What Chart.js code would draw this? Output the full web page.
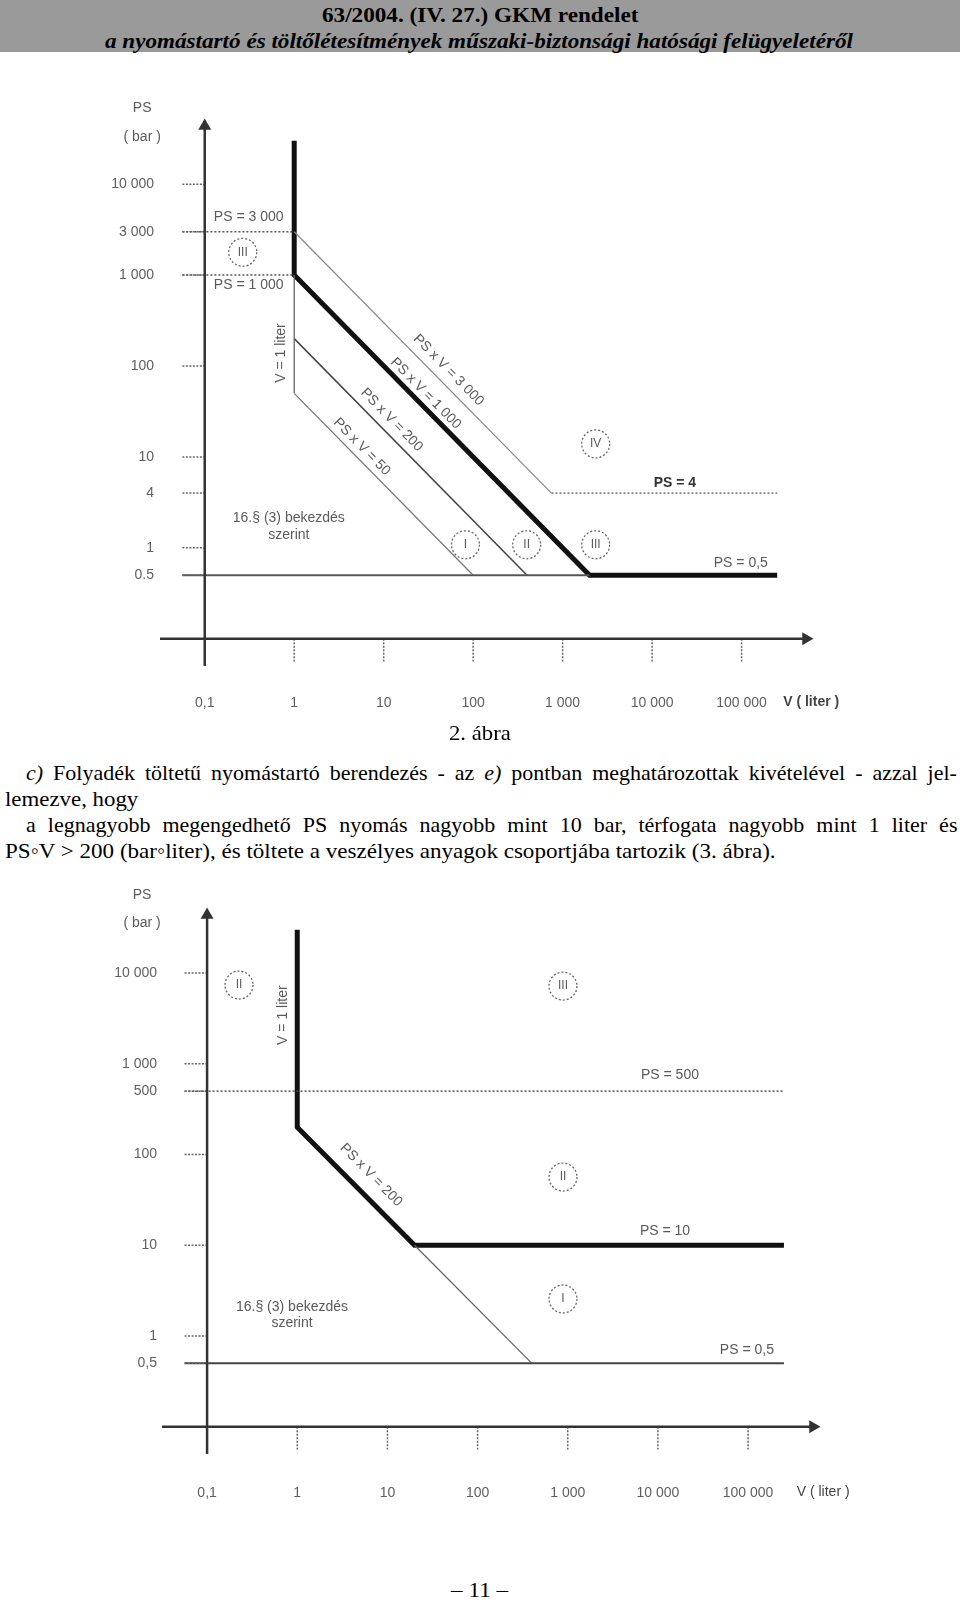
<!DOCTYPE html>
<html lang="hu">
<head>
<meta charset="utf-8">
<script src="https://cdn.jsdelivr.net/npm/chart.js@4.4.1/dist/chart.umd.min.js"></script>
<style>
  body { margin: 0; width: 960px; height: 1601px; position: relative; background: #fff; overflow: hidden;
         font-family: "Liberation Serif", "Times New Roman", serif; color: #000; }
  #head { position: absolute; left: 0; top: 0; width: 960px; height: 52px; background: #9a9a9a; }
  .ln { position: absolute; white-space: pre; transform-origin: 0 50%; line-height: 1; }
  canvas { position: absolute; left: 0; }
</style>
</head>
<body>
<div id="head"></div>
<canvas id="c1" width="960" height="670" style="top:60px"></canvas>
<canvas id="c2" width="960" height="630" style="top:870px"></canvas>
<script>
// drawn range of both diagrams (log axes, arrows at the ends)
const xRange = [10 ** -1.5, 10 ** 5.72];
const yRange = [10 ** -1.3, 10 ** 4.64];
const tickStart = 10 ** -1.25;   // left end of the small y tick dashes
const tickEnd = 10 ** -1.25;     // lower end of the small x tick dashes

const xTicks = [0.1, 1, 10, 100, 1000, 10000, 100000];
const xTickLabels = ['0,1', '1', '10', '100', '1 000', '10 000', '100 000'];

// 2. ábra
const yTicks1 = [0.5, 1, 4, 10, 100, 1000, 3000, 10000];
const yTickLabels1 = ['0.5', '1', '4', '10', '100', '1 000', '3 000', '10 000'];
const bold1 = [[1, 30000], [1, 1000], [2000, 0.5], [250000, 0.5]];
const psv3000 = [[1, 3000], [750, 4]];
const ps4 = [[750, 4], [250000, 4]];
const psv200 = [[1, 200], [400, 0.5]];
const psv50 = [[1, 50], [100, 0.5]];
const vOne = [[1, 1000], [1, 50]];
const ps05a = [[tickStart, 0.5], [2000, 0.5]];
const ps3000 = [[tickStart, 3000], [1, 3000]];
const ps1000 = [[tickStart, 1000], [1, 1000]];

// 3. ábra
const yTicks2 = [0.5, 1, 10, 100, 500, 1000, 10000];
const yTickLabels2 = ['0,5', '1', '10', '100', '500', '1 000', '10 000'];
const bold2 = [[1, 30000], [1, 200], [20, 10], [250000, 10]];
const psv200b = [[20, 10], [400, 0.5]];
const ps500 = [[tickStart, 500], [250000, 500]];
const ps05b = [[tickStart, 0.5], [250000, 0.5]];

// labels inside the diagrams: text, V, PS, rotation
const notes1 = [
  ['PS', 0.02, 68000], ['( bar )', 0.02, 32800],
  ['PS = 3 000', 0.31, 4300], ['PS = 1 000', 0.31, 780],
  ['V = 1 liter', 0.71, 139, -90],
  ['PS x V = 3 000', 53, 90, 45.5], ['PS x V = 1 000', 29.5, 50, 45.5],
  ['PS x V = 200', 12.3, 25.5, 45.5], ['PS x V = 50', 5.7, 12.9, 45.5],
  ['16.§ (3) bekezdés', 0.87, 2.14], ['szerint', 0.87, 1.39],
  ['PS = 4', 18000, 5.2], ['PS = 0,5', 98000, 0.68]
];
const circles1 = [['III', 0.266, 1780], ['I', 82, 1.08], ['II', 396, 1.08], ['III', 2340, 1.08], ['IV', 2340, 13.9]];
const notes2 = [
  ['PS', 0.019, 72000], ['( bar )', 0.019, 35600],
  ['V = 1 liter', 0.70, 3440, -90],
  ['PS = 500', 13600, 752], ['PS x V = 200', 6.6, 59.4, 45.5],
  ['PS = 10', 12000, 14.4], ['PS = 0,5', 97000, 0.70],
  ['16.§ (3) bekezdés', 0.875, 2.09], ['szerint', 0.875, 1.39]
];
const circles2 = [['II', 0.226, 7380], ['III', 885, 7190], ['II', 885, 56.5], ['I', 885, 2.56]];

Chart.defaults.font.family = '"Liberation Sans", Arial, sans-serif';
Chart.defaults.font.size = 14;
Chart.defaults.color = '#5f5f5f';

function seg(points, color, width, dash) {
  return {
    data: points.map(p => ({ x: p[0], y: p[1] })),
    borderColor: color,
    borderWidth: width,
    borderDash: dash || [],
    showLine: true,
    pointRadius: 0,
    fill: false,
    borderCapStyle: 'butt',
    borderJoinStyle: 'miter'
  };
}

function axes() {
  const xa = seg([[xRange[0], 0.1], [xRange[1], 0.1]], '#333', 2.5);
  const ya = seg([[0.1, yRange[0]], [0.1, yRange[1]]], '#333', 2.5);
  [xa, ya].forEach(d => {
    d.pointRadius = [0, 5];
    d.pointStyle = 'triangle';
    d.pointBackgroundColor = '#333';
    d.pointBorderColor = '#333';
    d.clip = false;
  });
  xa.pointRotation = 90;
  return [xa, ya];
}

function tickDashes(yTicks) {
  const out = [];
  yTicks.forEach(v => out.push(seg([[tickStart, v], [0.1, v]], '#666', 1.5, [2, 1.5])));
  xTicks.slice(1).forEach(v => out.push(seg([[v, 0.1], [v, tickEnd]], '#666', 1.5, [2, 1.5])));
  return out;
}

function notesPlugin(texts, circles, axisTitle) {
  return {
    id: 'notes',
    afterDatasetsDraw(chart) {
      const { ctx, scales: { x, y } } = chart;
      ctx.save();
      ctx.textAlign = 'center';
      ctx.textBaseline = 'middle';
      texts.forEach(t => {
        ctx.save();
        ctx.translate(x.getPixelForValue(t[1]), y.getPixelForValue(t[2]));
        ctx.rotate((t[3] || 0) * Math.PI / 180);
        const strong = t[0] === 'PS = 4';
        ctx.font = (strong ? 'bold ' : '') + '14px "Liberation Sans"';
        ctx.fillStyle = strong ? '#333' : '#5a5a5a';
        ctx.fillText(t[0], 0, 0);
        ctx.restore();
      });
      circles.forEach(c => {
        const px = x.getPixelForValue(c[1]), py = y.getPixelForValue(c[2]);
        ctx.beginPath();
        ctx.setLineDash([2, 2]);
        ctx.lineWidth = 1.3;
        ctx.strokeStyle = '#666';
        ctx.arc(px, py, 14, 0, Math.PI * 2);
        ctx.stroke();
        ctx.font = '12px "Liberation Sans"';
        ctx.fillStyle = '#5a5a5a';
        ctx.fillText(c[0], px, py);
      });
      // V ( liter ) after the last x tick label
      ctx.font = axisTitle.font;
      ctx.fillStyle = '#444';
      ctx.fillText('V ( liter )', x.getPixelForValue(axisTitle.v), x.top + axisTitle.dy);
      ctx.restore();
    }
  };
}

function makeChart(id, datasets, yTicks, yLabels, lay, plugin) {
  new Chart(document.getElementById(id), {
    type: 'scatter',
    data: { datasets },
    options: {
      responsive: false,
      animation: false,
      events: [],
      layout: { padding: { left: lay.left, right: lay.right, top: lay.top, bottom: 0 } },
      plugins: { legend: { display: false }, tooltip: { enabled: false } },
      scales: {
        x: {
          type: 'logarithmic', min: xRange[0], max: xRange[1],
          grid: { display: false, drawTicks: false }, border: { display: false },
          afterBuildTicks: s => { s.ticks = xTicks.map(v => ({ value: v })); },
          afterFit: s => { s.height = lay.xh; },
          ticks: { autoSkip: false, maxRotation: 0, padding: lay.xpad, callback: (v, i) => xTickLabels[i] }
        },
        y: {
          type: 'logarithmic', min: yRange[0], max: yRange[1],
          grid: { display: false, drawTicks: false }, border: { display: false },
          afterBuildTicks: s => { s.ticks = yTicks.map(v => ({ value: v })); },
          afterFit: s => { s.width = 60; },
          ticks: { autoSkip: false, padding: lay.ypad, callback: (v, i) => yLabels[i] }
        }
      }
    },
    plugins: [plugin]
  });
}

makeChart('c1', [
  ...axes(),
  ...tickDashes(yTicks1),
  seg(ps3000, '#555', 1.5, [2, 2]),
  seg(ps1000, '#555', 1.5, [2, 2]),
  seg(ps05a, '#555', 2),
  seg(vOne, '#666', 1.3),
  seg(psv50, '#777', 1.3),
  seg(psv200, '#444', 1.5),
  seg(psv3000, '#888', 1.2),
  seg(ps4, '#777', 1.5, [2, 2]),
  seg(bold1, '#111', 5)
], yTicks1, yTickLabels1,
  { left: 100, right: 154, top: 66, xh: 64, xpad: 29, ypad: 6 },
  notesPlugin(notes1, circles1, { v: 600000, dy: 36, font: 'bold 14px "Liberation Sans"' }));

makeChart('c2', [
  ...axes(),
  ...tickDashes(yTicks2),
  seg(ps500, '#555', 1.5, [2, 2]),
  seg(ps05b, '#444', 2),
  seg(psv200b, '#666', 1.3),
  seg(bold2, '#111', 5)
], yTicks2, yTickLabels2,
  { left: 102, right: 147, top: 45, xh: 46, xpad: 31, ypad: 5 },
  notesPlugin(notes2, circles2, { v: 680000, dy: 38, font: '14px "Liberation Sans"' }));

// page text, each line fitted to its width in the scan
const lines = [
  { html: '63/2004. (IV. 27.) GKM rendelet', x0: 322, x1: 638, cy: 15, size: 22, weight: 'bold' },
  { html: 'a nyomástartó és töltőlétesítmények műszaki-biztonsági hatósági felügyeletéről', x0: 105, x1: 853, cy: 41, size: 21, weight: 'bold', style: 'italic' },
  { html: '2. ábra', x0: 449, x1: 511, cy: 733, size: 22 },
  { html: '<i>c)</i> Folyadék töltetű nyomástartó berendezés - az <i>e)</i> pontban meghatározottak kivételével - azzal jel-', x0: 26, x1: 957, cy: 773, size: 22, justify: true },
  { html: 'lemezve, hogy', x0: 5, x1: 138, cy: 799, size: 22 },
  { html: 'a legnagyobb megengedhető PS nyomás nagyobb mint 10 bar, térfogata nagyobb mint 1 liter és', x0: 26, x1: 957, cy: 825, size: 22, justify: true },
  { html: 'PS◦V &gt; 200 (bar◦liter), és töltete a veszélyes anyagok csoportjába tartozik (3. ábra).', x0: 5, x1: 776, cy: 851, size: 22 },
  { html: '– 11 –', x0: 451, x1: 508, cy: 1590, size: 22 }
];

lines.forEach(l => {
  const el = document.createElement('div');
  el.className = 'ln';
  el.innerHTML = l.html;
  el.style.fontSize = l.size + 'px';
  if (l.weight) el.style.fontWeight = l.weight;
  if (l.style) el.style.fontStyle = l.style;
  document.body.appendChild(el);
  const target = l.x1 - l.x0;
  let w = el.offsetWidth;
  if (l.justify && w < target) {
    const gaps = el.textContent.split(' ').length - 1;
    el.style.wordSpacing = ((target - w) / gaps) + 'px';
    w = el.offsetWidth;
  }
  el.style.transform = 'scaleX(' + (target / w) + ')';
  el.style.left = l.x0 + 'px';
  el.style.top = (l.cy - el.offsetHeight / 2) + 'px';
});
</script>
</body>
</html>
